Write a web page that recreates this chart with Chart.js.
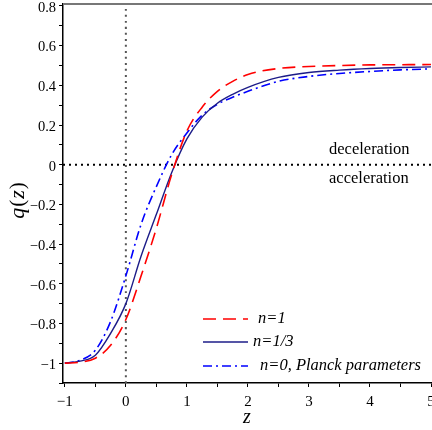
<!DOCTYPE html>
<html>
<head>
<meta charset="utf-8">
<script src="https://cdn.jsdelivr.net/npm/chart.js@4.4.1/dist/chart.umd.min.js"></script>
<style>
  html, body { margin: 0; padding: 0; background: #fff; }
  #wrap { width: 432px; height: 430px; }
</style>
</head>
<body>
<div id="wrap"><canvas id="qChart"></canvas></div>
<script>
// redshift samples and q(z)
const zValues = [-1, -0.75, -0.5, -0.25, 0, 0.25, 0.5, 0.75, 1, 1.25, 1.5, 1.75, 2, 2.5, 3, 3.5, 4, 4.5, 5];
const qN1     = [-1.0, -0.995, -0.975, -0.91, -0.78, -0.56, -0.32, -0.05, 0.17, 0.29, 0.37, 0.42, 0.455, 0.485, 0.495, 0.5, 0.503, 0.504, 0.505];
const qN13    = [-1.0, -0.99, -0.96, -0.85, -0.70, -0.46, -0.25, -0.04, 0.13, 0.24, 0.31, 0.355, 0.39, 0.44, 0.465, 0.477, 0.485, 0.49, 0.493];
const qN0     = [-1.0, -0.985, -0.935, -0.79, -0.56, -0.30, -0.11, 0.05, 0.16, 0.25, 0.305, 0.34, 0.37, 0.42, 0.445, 0.46, 0.47, 0.478, 0.483];

const seriesLabels = ['n=1', 'n=1/3', 'n=0, Planck parameters'];

const xMajorTicks = [-1, 0, 1, 2, 3, 4, 5];
const xMinorTicks = [-0.5, 0.5, 1.5, 2.5, 3.5, 4.5];
const yMajorTicks = [-1, -0.8, -0.6, -0.4, -0.2, 0, 0.2, 0.4, 0.6, 0.8];
const yMinorTicks = [-1.1, -0.9, -0.7, -0.5, -0.3, -0.1, 0.1, 0.3, 0.5, 0.7];

// reference lines q=0 and z=0
const zeroLineZ = [-1.03, 5];
const zeroLineQ = [-1.1, 0.81];

const serif = '"Liberation Serif", "DejaVu Serif", serif';

const toPts = ys => zValues.map((z, i) => ({ x: z, y: ys[i] }));
const fmt = v => {
  const s = String(Math.round(v * 10) / 10);
  return s.replace('-', '\u2212');
};

const extras = {
  id: 'extras',
  afterDatasetsDraw(chart) {
    const { ctx, chartArea, scales } = chart;
    const y0 = scales.y.getPixelForValue(0);
    ctx.save();
    // top frame line
    ctx.strokeStyle = '#777';
    ctx.lineWidth = 2;
    ctx.beginPath();
    ctx.moveTo(chartArea.left, chartArea.top);
    ctx.lineTo(chartArea.right + 2, chartArea.top);
    ctx.stroke();

    // regime labels
    ctx.fillStyle = '#000';
    ctx.font = '16.5px ' + serif;
    ctx.textBaseline = 'middle';
    ctx.textAlign = 'left';
    ctx.fillText('deceleration', 329, y0 - 15);
    ctx.fillText('acceleration', 329, y0 + 14);

    // legend
    const rows = [319, 342, 366];
    const textX = [258, 253, 260];
    [0, 1, 2].forEach(i => {
      const ds = chart.data.datasets[i];
      ctx.strokeStyle = ds.borderColor;
      ctx.lineWidth = ds.borderWidth;
      ctx.setLineDash(ds.borderDash || []);
      ctx.beginPath();
      ctx.moveTo(203, rows[i]);
      ctx.lineTo(248, rows[i]);
      ctx.stroke();
      ctx.setLineDash([]);
      ctx.font = 'italic 16.5px ' + serif;
      ctx.fillText(seriesLabels[i], textX[i], rows[i]);
    });

    // axis titles
    ctx.font = 'italic 20px ' + serif;
    ctx.textAlign = 'center';
    ctx.fillText('z', 247, 418);

    ctx.translate(18, 200);
    ctx.rotate(-Math.PI / 2);
    ctx.textAlign = 'left';
    const parts = [['q', 'italic 22px '], ['(', '21px '], ['z', 'italic 22px '], [')', '21px ']];
    let w = 0;
    parts.forEach(p => { ctx.font = p[1] + serif; w += ctx.measureText(p[0]).width + 1; });
    let x = -w / 2;
    parts.forEach(p => {
      ctx.font = p[1] + serif;
      ctx.fillText(p[0], x, 0);
      x += ctx.measureText(p[0]).width + 1;
    });
    ctx.restore();
  }
};

new Chart(document.getElementById('qChart'), {
  type: 'line',
  data: {
    datasets: [
      {
        label: seriesLabels[0],
        data: toPts(qN1),
        borderColor: '#ff0000',
        borderWidth: 1.6,
        borderDash: [13, 7]
      },
      {
        label: seriesLabels[1],
        data: toPts(qN13),
        borderColor: '#1c1c88',
        borderWidth: 1.4
      },
      {
        label: seriesLabels[2],
        data: toPts(qN0),
        borderColor: '#0000ff',
        borderWidth: 1.6,
        borderDash: [9, 4, 2, 4]
      },
      {
        label: 'q=0',
        data: zeroLineZ.map(z => ({ x: z, y: 0 })),
        borderColor: '#000',
        borderWidth: 2,
        borderDash: [2, 4]
      },
      {
        label: 'z=0',
        data: zeroLineQ.map(q => ({ x: 0, y: q })),
        borderColor: '#555',
        borderWidth: 2,
        borderDash: [2, 4]
      }
    ]
  },
  options: {
    responsive: true,
    maintainAspectRatio: false,
    animation: false,
    layout: { padding: { top: 4, right: 1, left: 0, bottom: 0 } },
    elements: {
      point: { radius: 0 },
      line: { cubicInterpolationMode: 'monotone', fill: false }
    },
    plugins: {
      legend: { display: false },
      tooltip: { enabled: false }
    },
    scales: {
      x: {
        type: 'linear',
        min: -1.03,
        max: 5,
        grid: { drawOnChartArea: false, tickLength: 4, color: '#000' },
        border: { color: '#000', width: 1.5 },
        afterBuildTicks: s => {
          s.ticks = xMajorTicks.concat(xMinorTicks).sort((a, b) => a - b).map(v => ({ value: v }));
        },
        afterFit: s => { s.height = 47; s.paddingLeft = 0; s.paddingRight = 0; },
        ticks: {
          autoSkip: false,
          maxRotation: 0,
          padding: 6,
          color: '#000',
          font: { family: serif, size: 15 },
          callback: v => xMajorTicks.includes(v) ? fmt(v) : ''
        }
      },
      y: {
        type: 'linear',
        min: -1.1,
        max: 0.81,
        grid: { drawOnChartArea: false, tickLength: 4, color: '#000' },
        border: { color: '#000', width: 1.5 },
        afterBuildTicks: s => {
          s.ticks = yMajorTicks.concat(yMinorTicks).sort((a, b) => a - b).map(v => ({ value: v }));
        },
        afterFit: s => { s.width = 63; s.paddingTop = 0; s.paddingBottom = 0; },
        ticks: {
          autoSkip: false,
          padding: 3,
          labelOffset: 2,
          color: '#000',
          font: { family: serif, size: 14.5 },
          callback: v => yMajorTicks.some(t => Math.abs(t - v) < 1e-9) ? fmt(v) : ''
        }
      }
    }
  },
  plugins: [extras]
});
</script>
</body>
</html>
